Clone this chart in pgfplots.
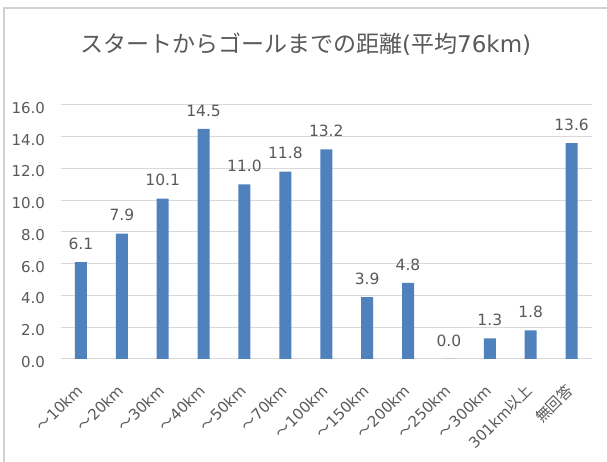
\documentclass[border=0pt]{standalone}
\usepackage{fontspec}
\setmainfont{DejaVu Sans}
\newfontfamily\cjk{Noto Sans CJK JP}
\usepackage{pgfplots}
\pgfplotsset{compat=1.18}
\definecolor{barblue}{HTML}{4F81BD}
\definecolor{txt}{HTML}{595959}
\definecolor{gridc}{HTML}{D9D9D9}
\begin{document}
\begin{tikzpicture}[x=1bp,y=1bp]
\useasboundingbox (0,0) rectangle (607,462);
\draw[color=black!18, line width=1.5bp] (4,-10) -- (4,454) -- (620,454);
\node[text=txt, anchor=west, inner sep=0pt, font=\fontsize{23bp}{26bp}\selectfont] at (80,418) {{\cjk スタートからゴールまでの距離}({\cjk 平均}76km)};
\begin{axis}[
  at={(60.5bp,103bp)}, anchor=south west,
  scale only axis, width=531.5bp, height=254bp,
  ymin=0, ymax=16, xmin=-0.5, xmax=12.5,
  ytick={0,2,...,16},
  /pgf/number format/fixed, /pgf/number format/fixed zerofill, /pgf/number format/precision=1, /pgf/number format/assume math mode=true,
  yticklabel style={text=txt, font=\fontsize{15bp}{18bp}\selectfont, xshift=-12bp, yshift=-3bp},
  ymajorgrids, grid style={gridc, line width=1bp},
  axis line style={draw=none},
  major tick style={draw=none},
  xtick=data,
  xticklabels={{\cjk ～}10km,{\cjk ～}20km,{\cjk ～}30km,{\cjk ～}40km,{\cjk ～}50km,{\cjk ～}70km,{\cjk ～}100km,{\cjk ～}150km,{\cjk ～}200km,{\cjk ～}250km,{\cjk ～}300km,301km{\cjk 以上},{\cjk 無回答}},
  xticklabel style={xshift=1bp, yshift=-22bp, rotate=45, anchor=east, text=txt, font=\fontsize{15bp}{18bp}\selectfont},
  ybar, bar width=12bp,
  nodes near coords,
  nodes near coords style={text=txt, font=\fontsize{15.5bp}{18bp}\selectfont, yshift=9bp},
]
\addplot[fill=barblue, draw=none] coordinates {
(0,6.1) (1,7.9) (2,10.1) (3,14.5) (4,11.0) (5,11.8) (6,13.2) (7,3.9) (8,4.8) (9,0.0) (10,1.3) (11,1.8) (12,13.6)
};
\end{axis}
\end{tikzpicture}
\end{document}
